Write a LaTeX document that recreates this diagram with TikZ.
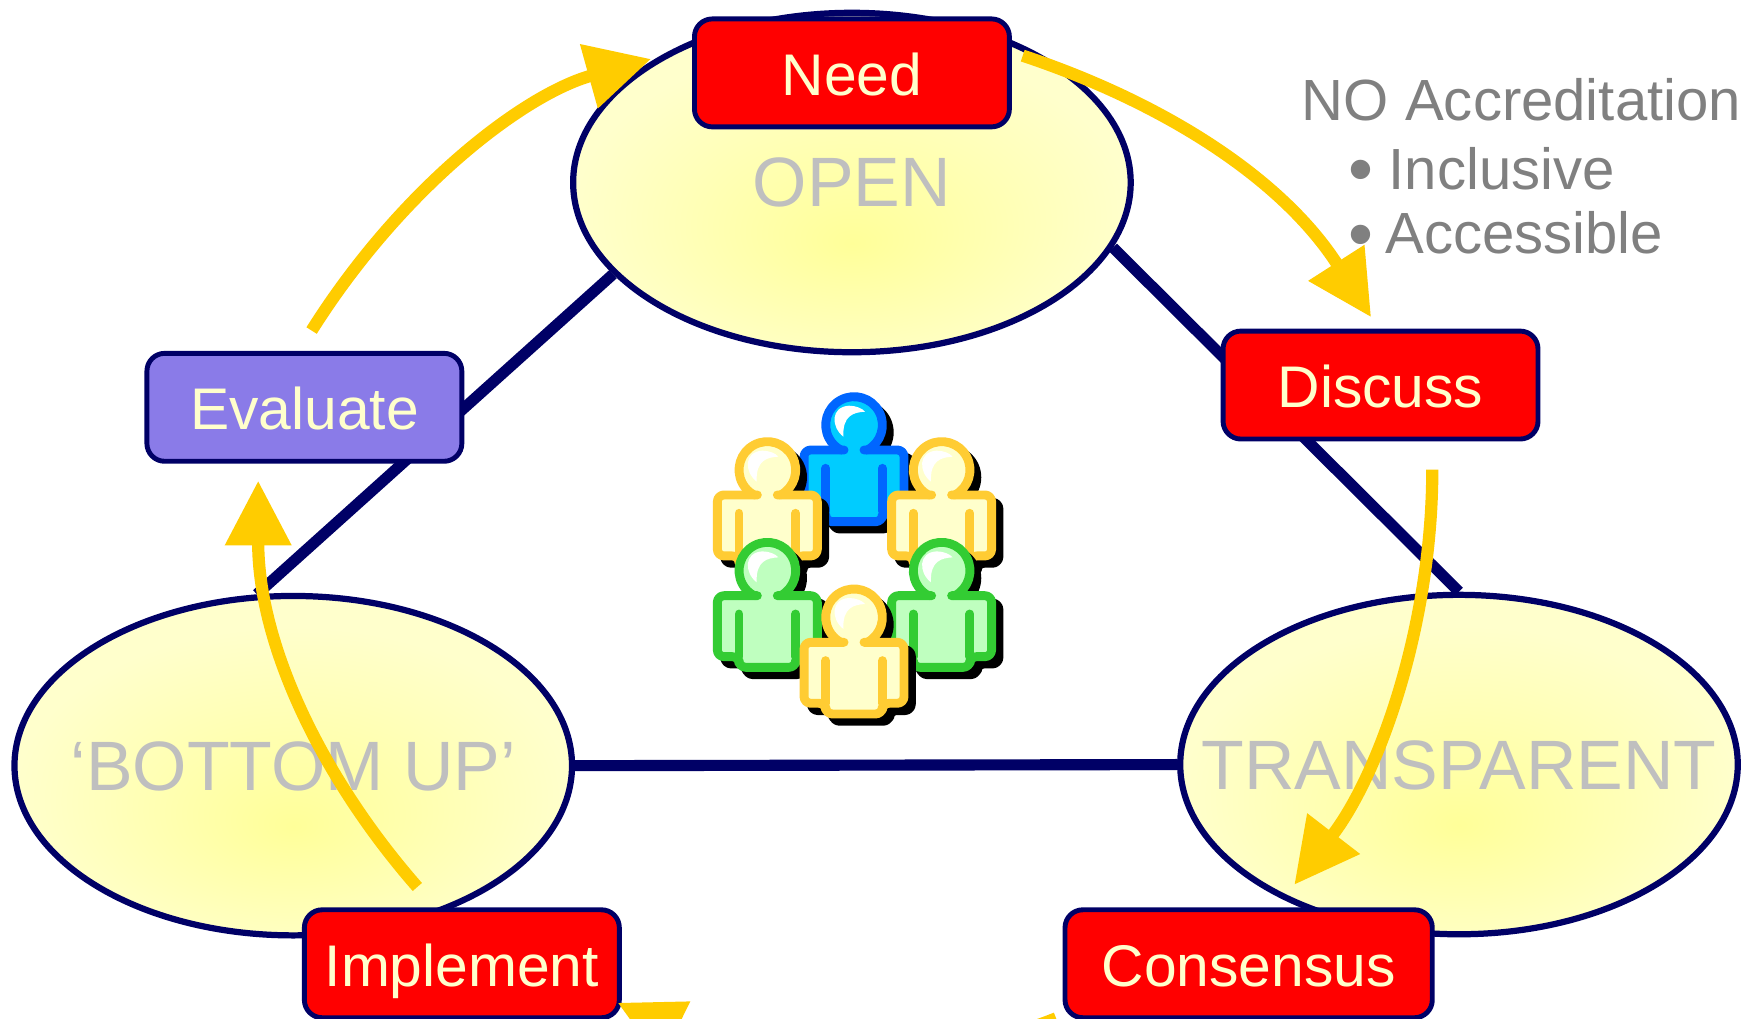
\documentclass[tikz,border=0pt]{standalone}
\usepackage{fontspec}
\setmainfont{Liberation Sans}
\usetikzlibrary{shapes.geometric,arrows.meta}
\definecolor{navyline}{HTML}{000066}
\definecolor{flowgold}{HTML}{FFCC00}
\definecolor{cream}{HTML}{FFFFCC}
\definecolor{ellcore}{HTML}{FFFF99}
\definecolor{evalblue}{HTML}{8A7BE8}
\definecolor{paleword}{HTML}{BFBFBF}
\definecolor{noteword}{HTML}{808080}
\definecolor{pblue}{HTML}{0066FF}
\definecolor{pbluef}{HTML}{00CCFF}
\definecolor{pyel}{HTML}{FFCC33}
\definecolor{pgreen}{HTML}{33CC33}
\definecolor{pgreenf}{HTML}{BFFFBF}
\pgfdeclareradialshading{ellglow}{\pgfpoint{0bp}{-9bp}}{color(0bp)=(ellcore); color(25bp)=(cream); color(50bp)=(cream)}
\tikzset{
  ellbase/.style={ellipse, shade, shading=ellglow, draw=navyline, line width=2.8pt, inner sep=0pt,
    minimum width=250.5pt, minimum height=152.5pt, text=paleword, font=\fontsize{31.4}{31.4}\selectfont,
    text height=22pt, text depth=0pt},
  boxbase/.style={rectangle, rounded corners=8pt, draw=navyline, line width=2.2pt, fill=red, inner sep=0pt,
    minimum width=141.5pt, minimum height=48.5pt, text=cream, font=\fontsize{26.4}{26.4}\selectfont,
    text height=20pt, text depth=0pt},
  linkline/.style={navyline, line width=5pt},
  flow/.style={flowgold, line width=5.5pt, -{Triangle[length=29pt,width=28.5pt]}},
  note/.style={anchor=base west, inner sep=0pt, text=noteword, font=\fontsize{26.1}{26.1}\selectfont},
  pstroke/.style={line width=4pt, line cap=round, line join=round},
}
\newcommand{\bigdot}{\raisebox{-2pt}{\fontsize{32}{32}\selectfont •}}
\newcommand{\bodyfill}{(-150,75) -- (-150,258) -- (-85,258) -- (-85,290) -- (85,290) -- (85,258) -- (150,258) -- (150,75) -- cycle}
\newcommand{\drawperson}[4]{%
  \begin{scope}[shift={(#1,#2)}, x=.1497pt, y=-.1497pt, rounded corners=3pt]
    \begin{scope}[shift={(22,22)}]
      \fill[black] (0,0) circle (97);
      \path[fill=black, draw=black, pstroke] \bodyfill;
    \end{scope}
    \fill[#4] (0,0) circle (85);
    \fill[#4] \bodyfill;
    \fill[white, sharp corners] (-32,35) .. controls (-70,5) and (-70,-55) .. (-15,-58) .. controls (5,-58) and (25,-50) .. (33,-40) .. controls (0,-38) and (-35,-30) .. (-32,35) -- cycle;
    \draw[#3, pstroke, sharp corners] (40,75) arc (62:-242:85);
    \draw[#3, pstroke] (-30,75) -- (-150,75) -- (-150,258) -- (-85,258) -- (-85,290) -- (85,290) -- (85,258) -- (150,258) -- (150,75) -- (30,75);
    \draw[#3, pstroke, sharp corners] (-85,130) -- (-85,258);
    \draw[#3, pstroke, sharp corners] (85,130) -- (85,258);
  \end{scope}}
\begin{document}
\begin{tikzpicture}[x=0.5pt,y=-0.5pt]
\clip (0,0) rectangle (1568,915.6);
\fill[white] (0,0) rectangle (1568,915.6);

\node[ellbase] (open) at (765.5,164) {OPEN};
\node[ellbase] (bottomup) at (263.5,688) {\makebox[0pt][c]{‘BOTTOM UP’}};
\node[ellbase] (transparent) at (1311,687) {\makebox[0pt][c]{TRANSPARENT}};

\draw[linkline] (open.201) -- (bottomup.102.6);
\draw[linkline] (open.-14.6) -- (transparent.90);
\draw[linkline] (bottomup.east) -- (transparent.west);

\node[boxbase] (need) at (765.5,65.5) {Need};
\node[boxbase] (discuss) at (1240.5,346) {Discuss};
\node[boxbase, fill=evalblue] (evaluate) at (273.5,366) {Evaluate};
\node[boxbase] (implement) at (415,866) {Implement};
\node[boxbase, minimum width=165pt] (consensus) at (1122,866) {Consensus};

\node[note] (accred) at (1169.5,108) {NO Accreditation};
\node[note] (inclusive) at (1211,170) {\bigdot\hspace{7pt}Inclusive};
\node[note] (accessible) at (1211,228) {\bigdot\hspace{5.5pt}Accessible};

\drawperson{767.4}{381.9}{pblue}{pbluef}
\drawperson{689.5}{422.3}{pyel}{cream}
\drawperson{846.1}{422.3}{pyel}{cream}
\drawperson{689.5}{512.8}{pgreen}{pgreenf}
\drawperson{846.1}{512.8}{pgreen}{pgreenf}
\drawperson{767.4}{554.7}{pyel}{cream}

\coordinate (evalout) at (280,297);
\coordinate (needin) at (585,53);
\coordinate (needout) at (919,50);
\coordinate (discussin) at (1232,285);
\coordinate (discussout) at (1287,422);
\coordinate (consensusin) at (1163,795);
\coordinate (consensusout) at (949,915);
\coordinate (implementin) at (555,901);
\coordinate (implementout) at (375,797);
\coordinate (evalin) at (232,432);

\draw[flow] (evalout) .. controls (360,170) and (470,85) .. (needin);
\draw[flow] (needout) .. controls (1045,92) and (1152,160) .. (discussin);
\draw[flow] (discussout) .. controls (1287,560) and (1240,695) .. (consensusin);
\draw[flow] (consensusout) .. controls (850,955) and (690,968) .. (implementin);
\draw[flow] (implementout) .. controls (290,700) and (232,580) .. (evalin);
\end{tikzpicture}
\end{document}
